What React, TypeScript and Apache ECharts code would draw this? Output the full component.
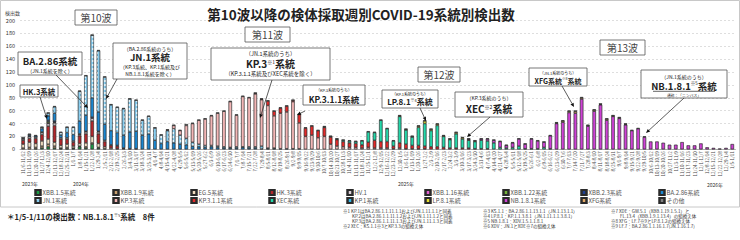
import React, { useEffect, useRef } from 'react';
import * as echarts from 'echarts';

const N_WEEKS = 114;
const START_UTC = Date.UTC(2023, 10, 6); // first week 2023/11/6-11/12

// values; each array starts at the week index given by *_FROM
const XBB15_FROM = 0;  const XBB15 = [0,0,1,2,4,2,1,1,1,4,2,8,2,1];
const XBB19_FROM = 0;  const XBB19 = [2,3,2,3,4,3,1,2,1,1,2,2,1];
const EG5_FROM = 0;    const EG5 = [6,8,6,8,8,6,4,5,3,4,6,10,6,3,2,1,1];
const HK3_FROM = 0;    const HK3 = [6,6,8,10,20,26,10,8,6,12,14,24,15,8,4,4,1,1,1];
const HV1_FROM = 0;    const HV1 = [2,3,2,3,4,4,2,2,2,2,3,4,3,2,1,1];
const XBB116_FROM = 0; const XBB116 = [0,0,0,0,1];
const XBB122_FROM = 0; const XBB122 = [0,0,0,1,2,1];
const XBB23_FROM = 0;  const XBB23 = [1,1,0,0,2,2,0,0,0,1,1,2,1];
const BA286_FROM = 0;  const BA286 = [0,2,2,5,7,12,4,8,10,20,25,30,30,25,22,20,20,26,27,22,24,14,9,12,10,8,7,5,4,3,4,3,2,2,2,3,2,2,1,1,1,1,1,1,1];
const JN1_FROM = 0;    const JN1 = [0,0,0,2,4,10,4,8,11,46,61,97,95,73,40,39,41,51,48,23,27,19,13,17,22,14,10,6,4,3,2,2,2,1,2,1,2,2,4,1,1];
const KP3_FROM = 23;   const KP3 = [1,5,7,20,29,37,41,46,51,55,71,49,78,76,82,72,66,50,55,57,73,40,20,22,18,20,8,5,4,3,3,2,3,2,2,2,1,2,1,1,1,1];
const KP311_FROM = 37; const KP311 = [1,1,7,7,8,9,2,13,13,14,11,14,11,10,8,7,6,5,8,12,10,10,4,8,7,5,5,4,4,4,3,2,2,2,2,1,1,1];
const XEC_FROM = 48;   const XEC = [1,1,1,2,3,3,6,16,12,33,20,8,41,22,13,28,35,25,33,17,13,22,14,12,11,13,12,10,3,2,3,5,1,1,1,3,1];
const KP1_FROM = 0;    const KP1: number[] = [];
const LP81_FROM = 60;  const LP81 = [1,1,1,2,4,2,2,1,1,2,2,1,1];
const NB181_FROM = 71; const NB181 = [1,0,2,3,4,9,4,7,11,7,15,12,8,20,40,42,57,56,78,36,59,69,45,51,48,38,29,32,19,12,12,10,7,7,11,6,6,9,3,2,1,2,8];
const XFG_FROM = 85;   const XFG = [1,2,2,3,2,1,2,1,2,1,1,1];
const OTHER_FROM = 0;  const OTHER = [2,1,1,1,1,1,1,1,1,1,1,1,1,1,1,1,1,1,1,1,1,1,1,1,1,1,2,1,1,1,1,1,1,1,1,1,1,1,1,1,1,1,1,1,1,1,1,1,1,1,1,1,1,1,1,1,1,1,1,1,1,1,1,1,1,1,1,1,1,1,1,1,1,1,1,1,1,1,1,1,1,1,1,1,1,1,1,1,1,1,1,1,1,1,1,1,1,1,1,1];

const SERIES_NAMES = ['XBB.1.5系統','XBB.1.9系統','EG.5系統','HK.3系統','HV.1','XBB.1.16系統','XBB.1.22系統','XBB.2.3系統','BA.2.86系統','JN.1系統','KP.3系統','KP.3.1.1系統','XEC系統','KP.1系統','LP.8.1系統','NB.1.8.1系統','XFG系統','その他'];
const SERIES_COLORS = ['#1c9a45','#c9a070','#f1dcc0','#b3262a','#ddd0d8','#e060d0','#74b23a','#1f3f8f','#1a86d0','#86cdf0','#f3b6b6','#e22a2a','#24d8aa','#33b5e6','#e6e030','#cf42d6','#e0a868','#808080'];
const SERIES_DATA: [number, number[]][] = [
  [XBB15_FROM, XBB15],[XBB19_FROM, XBB19],[EG5_FROM, EG5],[HK3_FROM, HK3],[HV1_FROM, HV1],
  [XBB116_FROM, XBB116],[XBB122_FROM, XBB122],[XBB23_FROM, XBB23],[BA286_FROM, BA286],[JN1_FROM, JN1],
  [KP3_FROM, KP3],[KP311_FROM, KP311],[XEC_FROM, XEC],[KP1_FROM, KP1],[LP81_FROM, LP81],
  [NB181_FROM, NB181],[XFG_FROM, XFG],[OTHER_FROM, OTHER],
];

const Y_TICKS = { min: 0, max: 200, interval: 20 };
const YEAR_LABELS = ['2023年','2024年','2025年','2026年'];

const FONT = '"Noto Sans CJK JP", "Noto Sans", sans-serif';

function weekLabel(i: number) {
  const s = new Date(START_UTC + i * 7 * 86400000);
  const e = new Date(START_UTC + (i * 7 + 6) * 86400000);
  return `${s.getUTCMonth() + 1}/${s.getUTCDate()}-${e.getUTCMonth() + 1}/${e.getUTCDate()}`;
}

function full(from: number, vals: number[]) {
  const a: (number | null)[] = new Array(N_WEEKS).fill(null);
  vals.forEach((v, k) => { a[from + k] = v === 0 ? null : v; });
  return a;
}

function txt(x: number, y: number, text: string, size: number, extra: any = {}) {
  return { type: 'text', x, y, z: 100, style: { text, fontSize: size, fontFamily: FONT, fill: '#222', align: 'center', verticalAlign: 'middle', ...extra } };
}
function box(x: number, y: number, w: number, h: number) {
  return { type: 'rect', z: 99, shape: { x, y, width: w, height: h }, style: { fill: '#fff', stroke: '#555', lineWidth: 0.8 } };
}
function arrow(x1: number, y1: number, x2: number, y2: number) {
  const a = Math.atan2(y2 - y1, x2 - x1);
  const L = 4, W = 1.8;
  const bx = x2 - L * Math.cos(a), by = y2 - L * Math.sin(a);
  const px = -Math.sin(a) * W, py = Math.cos(a) * W;
  return [
    { type: 'line', z: 100, shape: { x1, y1, x2: bx, y2: by }, style: { stroke: '#333', lineWidth: 0.8 } },
    { type: 'polygon', z: 100, shape: { points: [[x2, y2], [bx + px, by + py], [bx - px, by - py]] }, style: { fill: '#111' } },
  ];
}
const sup = (b: number, s: number) => ({ b: { fontSize: b, fontWeight: 'bold', fontFamily: FONT, fill: '#222' }, s: { fontSize: s, fontFamily: FONT, fill: '#222', verticalAlign: 'top' } });

export default function App() {
  const ref = useRef<HTMLDivElement>(null);
  useEffect(() => {
    if (!ref.current) return;
    const chart = echarts.init(ref.current, null, { renderer: 'svg' });
    const categories = Array.from({ length: N_WEEKS }, (_, i) => weekLabel(i));

    const series = SERIES_NAMES.map((name, idx) => ({
      name, type: 'bar', stack: 'total', barWidth: '52%',
      data: full(SERIES_DATA[idx][0], SERIES_DATA[idx][1]),
      itemStyle: {
        color: SERIES_COLORS[idx], borderColor: '#2a2a2a', borderWidth: 0.4,
        decal: name === 'JN.1系統'
          ? { symbol: 'circle', symbolSize: 1, dashArrayX: [1.2, 1.2], dashArrayY: [1.2, 1.2], color: 'rgba(255,255,255,0.9)' }
          : { symbol: 'none' },
      },
    }));

    const legends = SERIES_NAMES.map((n, idx) => ({
      data: [n], left: 34.5 + 78 * (idx % 9), top: idx < 9 ? 189 : 197,
      itemWidth: 5, itemHeight: 5, itemGap: 0, padding: 0, icon: 'rect', selectedMode: false,
      textStyle: { fontSize: 6, color: '#555', fontFamily: FONT, padding: [0, 0, 0, -3] },
    }));

    const notes1 = ['※1 KP.1はBA.2.86.1.1.11.1.1およびJN.1.11.1.1と同義','　　KP.2はBA.2.86.1.1.11.1.2およびJN.1.11.1.2と同義','　　KP.3はBA.2.86.1.1.11.1.3およびJN.1.11.1.3と同義','※2 XEC：KS.1.1※3とKP.3.3の組換え体'];
    const notes2 = ['※3 KS.1.1：BA.2.86.1.1.13.1.1（JN.1.13.1.1）','※4 LP.8.1：KP.1.1.3.8.1（JN.1.11.1.1.3.8.1）','※5 NB.1.8.1：XDV.1.5.1.1.8.1','※6 XDV：JN.1とXDE※7の組換え体'];
    const notes3 = ['※7 XDE：GW.5.1（XBB.1.19.1.5.1）と','　　FL.13.4（XBB.1.9.1.13.4）の組換え体','※8 XFG：LF.7※9とLP.8.1.2の組換え体','※9 LF.7：BA.2.86.1.1.16.1.7(JN.1.16.1.7)'];
    const noteRows = [211, 216, 221, 226];

    const graphics: any[] = [
      { type: 'rect', z: 1, shape: { x: 0.5, y: 0.5, width: 739, height: 206.5 }, style: { fill: 'none', stroke: '#c8c8c8', lineWidth: 1 } },
      txt(361, 14, '第10波以降の検体採取週別COVID-19系統別検出数', 13.5, { fontWeight: 'bold' }),
      txt(5, 12, '検出数', 5, { align: 'left', fill: '#444' }),
      txt(22, 183, YEAR_LABELS[0], 5, { align: 'left', fill: '#333' }),
      txt(73, 183, YEAR_LABELS[1], 5, { align: 'left', fill: '#333' }),
      txt(398, 183, YEAR_LABELS[2], 5, { align: 'left', fill: '#333' }),
      txt(707, 184, YEAR_LABELS[3], 5, { align: 'left', fill: '#333' }),
      // wave labels
      box(75, 10, 42, 15), txt(96, 17.5, '第10波', 10, { fill: '#444' }),
      box(245, 27, 45, 15), txt(267.5, 34.5, '第11波', 10, { fill: '#444' }),
      box(418, 67, 42, 15), txt(439, 74.5, '第12波', 10, { fill: '#444' }),
      box(600, 40, 45, 15), txt(622.5, 47.5, '第13波', 10, { fill: '#444' }),
      // arrows
      ...arrow(56, 75, 88, 108),
      ...arrow(40, 97, 47, 119),
      ...arrow(117, 79, 106, 99),
      ...arrow(272, 80, 260, 118),
      ...arrow(305, 111, 297, 115),
      ...arrow(420, 108, 426, 121),
      ...arrow(490, 117, 467, 137),
      ...arrow(562, 86, 574, 107),
      ...arrow(684, 98, 646, 133),
      // BA.2.86
      box(18, 52, 64, 23), txt(50, 61, 'BA.2.86系統', 9.5, { fontWeight: 'bold' }), txt(50, 70, '（JN.1系統を除く）', 5),
      // HK.3
      box(20, 85, 38, 12), txt(39, 91, 'HK.3系統', 7.5, { fontWeight: 'bold' }),
      // JN.1
      box(113, 43, 74, 36), txt(150, 48, '（BA.2.86系統のうち）', 5), txt(150, 57, 'JN.1系統', 9.5, { fontWeight: 'bold' }),
      txt(150, 66.5, '（KP.3系統、KP.1系統及び', 5), txt(150, 73, 'NB.1.8.1系統を除く）', 5),
      // KP.3
      box(211, 48, 119, 32), txt(270.5, 53.5, '（JN.1系統のうち）', 5.5),
      { type: 'text', x: 270.5, y: 63.5, z: 100, style: { text: '{b|KP.3}{s|※1}{b|系統}', rich: sup(10, 5), align: 'center', verticalAlign: 'middle' } },
      txt(270.5, 73.5, '（KP.3.1.1系統及びXEC系統を除く）', 5.5),
      // KP.3.1.1
      box(303, 85, 62, 20), txt(334, 90, '（KP.3系統のうち）', 4), txt(334, 99, 'KP.3.1.1系統', 8.5, { fontWeight: 'bold' }),
      // LP.8.1
      box(382, 90, 56, 18), txt(410, 94, '（KP.1系統のうち）', 4),
      { type: 'text', x: 410, y: 101.5, z: 100, style: { text: '{b|LP.8.1}{s|※4}{b|系統}', rich: sup(8, 4), align: 'center', verticalAlign: 'middle' } },
      // XEC
      box(455, 92, 68, 25), txt(489, 97.5, '（KP.3系統のうち）', 5),
      { type: 'text', x: 489, y: 108.5, z: 100, style: { text: '{b|XEC}{s|※2}{b|系統}', rich: sup(10, 5), align: 'center', verticalAlign: 'middle' } },
      // XFG
      box(529, 68, 58, 18), txt(558, 73, '（JN.1系統のうち）', 4),
      { type: 'text', x: 558, y: 80.5, z: 100, style: { text: '{b|XFG系統}{s|※8}{b|系統}', rich: sup(7, 3.5), align: 'center', verticalAlign: 'middle' } },
      // NB.1.8.1
      box(641, 70, 86, 28), txt(684, 76.5, '（JN.1系統のうち）', 5),
      { type: 'text', x: 684, y: 85.5, z: 100, style: { text: '{b|NB.1.8.1}{s|※5}{b|系統}', rich: sup(9.5, 4.5), align: 'center', verticalAlign: 'middle' } },
      { type: 'line', z: 100, shape: { x1: 653, y1: 91.3, x2: 715, y2: 91.3 }, style: { stroke: '#222', lineWidth: 0.7 } },
      txt(684, 95, '通称：「ニンバス」', 3.8),
      // footnote
      { type: 'text', x: 7, y: 216.5, z: 100, style: { text: '{b|＊1/5-1/11の検出数：NB.1.8.1}{s|※5}{b|系統　8件}', rich: sup(7.5, 4), align: 'left', verticalAlign: 'middle' } },
      ...notes1.map((t, k) => txt(343, noteRows[k], t, 4.5, { align: 'left', fill: '#333' })),
      ...notes2.map((t, k) => txt(483, noteRows[k], t, 4.5, { align: 'left', fill: '#333' })),
      ...notes3.map((t, k) => txt(611, noteRows[k], t, 4.5, { align: 'left', fill: '#333' })),
    ];

    chart.setOption({
      animation: false,
      aria: { enabled: true, decal: { show: true } },
      textStyle: { fontFamily: FONT },
      grid: { left: 20, right: 4.6, top: 20.5, bottom: 90.7, outerBoundsMode: 'none', containLabel: false },
      xAxis: {
        type: 'category', data: categories,
        axisLine: { show: true, lineStyle: { color: '#999', width: 0.8 } },
        axisTick: { show: false },
        axisLabel: { interval: 0, rotate: 90, fontSize: 4.5, margin: 2, color: '#444' },
      },
      yAxis: {
        type: 'value', min: Y_TICKS.min, max: Y_TICKS.max, interval: Y_TICKS.interval,
        axisLine: { show: false }, axisTick: { show: false },
        axisLabel: { fontSize: 5.5, color: '#333', margin: 5 },
        splitLine: { lineStyle: { type: [2, 2], color: '#c8c8c8', width: 0.6 } },
      },
      legend: legends,
      series,
      graphic: { elements: graphics },
    });
    return () => chart.dispose();
  }, []);
  return <div ref={ref} style={{ position: 'fixed', left: 0, top: 0, width: 740, height: 240, background: '#fff' }} />;
}
